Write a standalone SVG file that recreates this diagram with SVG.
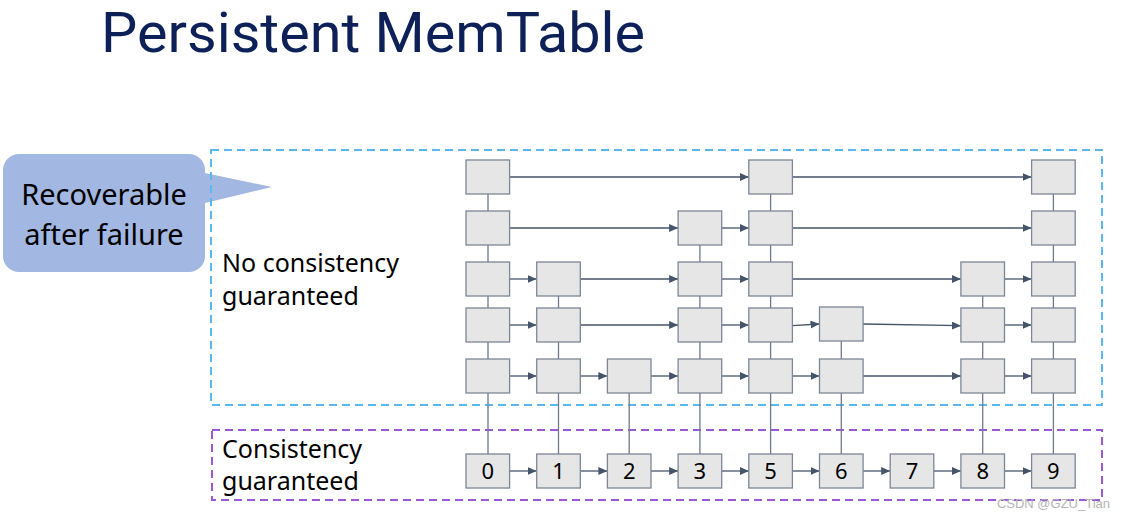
<svg xmlns="http://www.w3.org/2000/svg" width="1126" height="519" viewBox="0 0 1126 519">
<defs>
<style>
.t{font-family:"Noto Sans","Open Sans","Liberation Sans",sans-serif;fill:#000}
.n rect{fill:#e6e6e6;stroke:#7d8797;stroke-width:1.3}
.n text{font-family:"Noto Sans","Liberation Sans",sans-serif;font-size:22px;fill:#000;text-anchor:middle}
.v{stroke:#6f7a8a;stroke-width:1.3;fill:none}
.a{stroke:#44546a;stroke-width:1.3;fill:none;marker-end:url(#ah)}
</style>
<marker id="ah" markerUnits="userSpaceOnUse" markerWidth="10" markerHeight="8" refX="9" refY="4" orient="auto">
<path d="M0,0 L9,4 L0,8 z" fill="#44546a"/>
</marker>
</defs>
<rect width="1126" height="519" fill="#fff"/>
<text x="101" y="52" font-family="Roboto, 'Noto Sans', sans-serif" font-size="55" textLength="544" lengthAdjust="spacingAndGlyphs" fill="#0d2158">Persistent MemTable</text>
<g id="callout">
<path d="M205,173 L272,187 L205,203 z" fill="#a2b7e1"/>
<rect x="3" y="154" width="202" height="118" rx="16" fill="#a2b7e1"/>
<text class="t" x="104" y="205" font-size="29" text-anchor="middle">Recoverable</text>
<text class="t" x="104" y="245" font-size="29" text-anchor="middle">after failure</text>
</g>
<g id="region-top">
<rect x="211" y="150" width="891" height="255" fill="none" stroke="#5bb8ef" stroke-width="2" stroke-dasharray="8 5"/>
<text class="t" x="222" y="272" font-size="25">No consistency</text>
<text class="t" x="222" y="305" font-size="25">guaranteed</text>
</g>
<g id="region-bottom">
<rect x="212" y="430" width="890" height="70" fill="none" stroke="#9b59d6" stroke-width="2" stroke-dasharray="8 5"/>
<text class="t" x="222" y="458" font-size="25">Consistency</text>
<text class="t" x="222" y="490" font-size="25">guaranteed</text>
</g>
<g id="connectors">
<path class="v" d="M488,177 V471"/>
<path class="v" d="M558.5,279 V471"/>
<path class="v" d="M629.2,376 V471"/>
<path class="v" d="M699.9,228 V471"/>
<path class="v" d="M770.6,177 V471"/>
<path class="v" d="M841.3,325 V471"/>
<path class="v" d="M982.7,279 V471"/>
<path class="v" d="M1053.4,177 V471"/>
<path class="a" d="M509.6,177 H748.8"/>
<path class="a" d="M792.4,177 H1031.6"/>
<path class="a" d="M509.6,228 H678.1"/>
<path class="a" d="M721.7,228 H748.8"/>
<path class="a" d="M792.4,228 H1031.6"/>
<path class="a" d="M509.6,279 H536.7"/>
<path class="a" d="M580.3,279 H678.1"/>
<path class="a" d="M721.7,279 H748.8"/>
<path class="a" d="M792.4,279 H960.9"/>
<path class="a" d="M1004.5,279 H1031.6"/>
<path class="a" d="M509.6,325 H536.7"/>
<path class="a" d="M580.3,325 H678.1"/>
<path class="a" d="M721.7,325 H748.8"/>
<path class="a" d="M792.4,325.7 L819.5,324"/>
<path class="a" d="M863.1,324 L960.9,325.7"/>
<path class="a" d="M1004.5,325 H1031.6"/>
<path class="a" d="M509.6,376 H536.7"/>
<path class="a" d="M580.3,376 H607.4"/>
<path class="a" d="M651,376 H678.1"/>
<path class="a" d="M721.7,376 H748.8"/>
<path class="a" d="M792.4,376 H819.5"/>
<path class="a" d="M863.1,376 H960.9"/>
<path class="a" d="M1004.5,376 H1031.6"/>
<path class="a" d="M509.6,471 H536.7"/>
<path class="a" d="M580.3,471 H607.4"/>
<path class="a" d="M651,471 H678.1"/>
<path class="a" d="M721.7,471 H748.8"/>
<path class="a" d="M792.4,471 H819.5"/>
<path class="a" d="M863.1,471 H890.2"/>
<path class="a" d="M933.8,471 H960.9"/>
<path class="a" d="M1004.5,471 H1031.6"/>
</g>
<g id="row0" class="n">
<rect x="466" y="160" width="43.6" height="34"/>
<rect x="748.8" y="160" width="43.6" height="34"/>
<rect x="1031.6" y="160" width="43.6" height="34"/>
</g>
<g id="row1" class="n">
<rect x="466" y="211" width="43.6" height="34"/>
<rect x="678.1" y="211" width="43.6" height="34"/>
<rect x="748.8" y="211" width="43.6" height="34"/>
<rect x="1031.6" y="211" width="43.6" height="34"/>
</g>
<g id="row2" class="n">
<rect x="466" y="262" width="43.6" height="34"/>
<rect x="536.7" y="262" width="43.6" height="34"/>
<rect x="678.1" y="262" width="43.6" height="34"/>
<rect x="748.8" y="262" width="43.6" height="34"/>
<rect x="960.9" y="262" width="43.6" height="34"/>
<rect x="1031.6" y="262" width="43.6" height="34"/>
</g>
<g id="row3" class="n">
<rect x="466" y="308" width="43.6" height="34"/>
<rect x="536.7" y="308" width="43.6" height="34"/>
<rect x="678.1" y="308" width="43.6" height="34"/>
<rect x="748.8" y="308" width="43.6" height="34"/>
<rect x="819.5" y="307" width="43.6" height="34"/>
<rect x="960.9" y="308" width="43.6" height="34"/>
<rect x="1031.6" y="308" width="43.6" height="34"/>
</g>
<g id="row4" class="n">
<rect x="466" y="359" width="43.6" height="34"/>
<rect x="536.7" y="359" width="43.6" height="34"/>
<rect x="607.4" y="359" width="43.6" height="34"/>
<rect x="678.1" y="359" width="43.6" height="34"/>
<rect x="748.8" y="359" width="43.6" height="34"/>
<rect x="819.5" y="359" width="43.6" height="34"/>
<rect x="960.9" y="359" width="43.6" height="34"/>
<rect x="1031.6" y="359" width="43.6" height="34"/>
</g>
<g id="node-0" class="n"><rect x="466" y="454" width="43.6" height="34"/><text x="487.8" y="479">0</text></g>
<g id="node-1" class="n"><rect x="536.7" y="454" width="43.6" height="34"/><text x="558.5" y="479">1</text></g>
<g id="node-2" class="n"><rect x="607.4" y="454" width="43.6" height="34"/><text x="629.2" y="479">2</text></g>
<g id="node-3" class="n"><rect x="678.1" y="454" width="43.6" height="34"/><text x="699.9" y="479">3</text></g>
<g id="node-5" class="n"><rect x="748.8" y="454" width="43.6" height="34"/><text x="770.6" y="479">5</text></g>
<g id="node-6" class="n"><rect x="819.5" y="454" width="43.6" height="34"/><text x="841.3" y="479">6</text></g>
<g id="node-7" class="n"><rect x="890.2" y="454" width="43.6" height="34"/><text x="912" y="479">7</text></g>
<g id="node-8" class="n"><rect x="960.9" y="454" width="43.6" height="34"/><text x="982.7" y="479">8</text></g>
<g id="node-9" class="n"><rect x="1031.6" y="454" width="43.6" height="34"/><text x="1053.4" y="479">9</text></g>
<text x="1110" y="508" font-family="Liberation Sans, sans-serif" font-size="13" fill="#b4b4b4" text-anchor="end">CSDN @GZU_Tian</text>
</svg>
